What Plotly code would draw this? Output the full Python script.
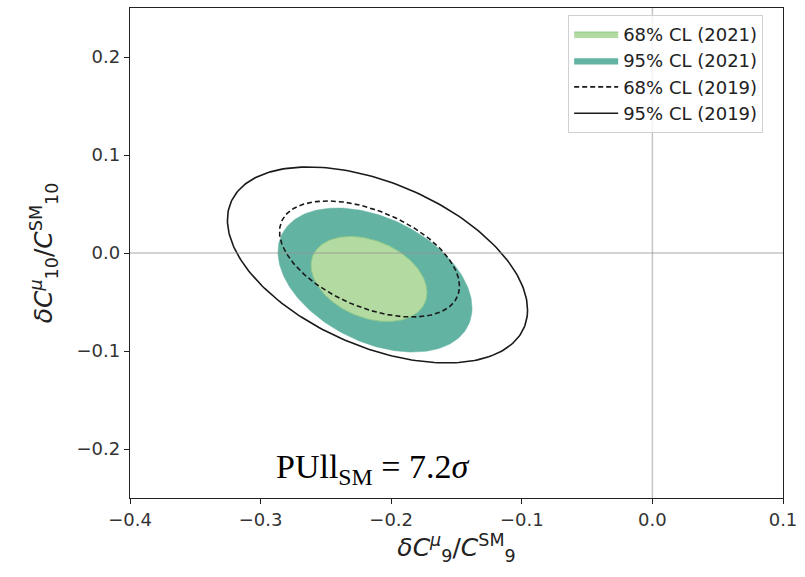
import numpy as np
import plotly.graph_objects as go

# Confidence-region ellipses: centre, half-extent along each axis, correlation
labels = ["95% CL (2021)", "68% CL (2021)", "68% CL (2019)", "95% CL (2019)"]
centre_c9 = [-0.2124, -0.2170, -0.2166, -0.2105]
centre_c10 = [-0.0276, -0.0265, -0.0061, -0.0122]
half_c9 = [0.0743, 0.0444, 0.0689, 0.1149]
half_c10 = [0.0735, 0.0434, 0.0592, 0.1000]
correlation = [-0.39, -0.32, -0.47, -0.46]

pull_text = "PUll<sub>SM</sub> = 7.2<i>σ</i>"

x_ticks = [-0.4, -0.3, -0.2, -0.1, 0.0, 0.1]
y_ticks = [-0.2, -0.1, 0.0, 0.1, 0.2]


def ellipse(i, n=240):
    t = np.linspace(0, 2 * np.pi, n)
    r = correlation[i]
    x = centre_c9[i] + half_c9[i] * np.cos(t)
    y = centre_c10[i] + half_c10[i] * (r * np.cos(t) + np.sqrt(1 - r * r) * np.sin(t))
    return x, y


fig = go.Figure()

styles = [
    dict(fill="toself", fillcolor="#63b3a3", line=dict(color="#63b3a3", width=0.5), rank=2),
    dict(fill="toself", fillcolor="#b3dba1", line=dict(color="#8fc98a", width=1), rank=1),
    dict(fill=None, fillcolor=None, line=dict(color="#1a1a1a", width=1.6, dash="5px,3px"), rank=3),
    dict(fill=None, fillcolor=None, line=dict(color="#1a1a1a", width=1.6), rank=4),
]

for i, lab in enumerate(labels):
    x, y = ellipse(i)
    s = styles[i]
    kw = dict(x=x, y=y, mode="lines", name=lab, line=s["line"], legendrank=s["rank"],
              hoverinfo="skip")
    if s["fill"]:
        kw.update(fill=s["fill"], fillcolor=s["fillcolor"])
    fig.add_trace(go.Scatter(**kw))

# reference lines at the Standard Model point
fig.add_shape(type="line", xref="x", yref="paper", x0=0, x1=0, y0=0, y1=1,
              line=dict(color="rgba(150,150,150,0.55)", width=1.5), layer="above")
fig.add_shape(type="line", xref="paper", yref="y", x0=0, x1=1, y0=0, y1=0,
              line=dict(color="rgba(150,150,150,0.55)", width=1.5), layer="above")

fig.add_annotation(x=-0.214, y=-0.22, xref="x", yref="y", text=pull_text,
                   showarrow=False, font=dict(family="Liberation Serif", size=34, color="black"))

axis_common = dict(
    showgrid=False, zeroline=False, showline=True, linecolor="#222", linewidth=1.3,
    mirror=True, ticks="outside", ticklen=5, tickwidth=1.2, tickcolor="#222",
    tickfont=dict(family="DejaVu Sans", size=18, color="#333"),
)

fig.update_xaxes(range=[-0.4, 0.1], tickvals=x_ticks,
                 ticktext=[f"{v:.1f}".replace("-", "−") for v in x_ticks],
                 title=dict(text="<i>δC</i><sup><i>μ</i></sup><sub>9</sub>/<i>C</i><sup>SM</sup><sub>9</sub>",
                            font=dict(family="DejaVu Sans", size=25, color="#222"), standoff=2),
                 **axis_common)
fig.update_yaxes(range=[-0.25, 0.25], tickvals=y_ticks,
                 ticktext=[f"{v:.1f}".replace("-", "−") for v in y_ticks],
                 title=dict(text="<i>δC</i><sup><i>μ</i></sup><sub>10</sub>/<i>C</i><sup>SM</sup><sub>10</sub>",
                            font=dict(family="DejaVu Sans", size=25, color="#222"), standoff=16),
                 **axis_common)

fig.update_layout(
    width=805, height=577,
    margin=dict(l=130, r=22, t=8, b=79),
    paper_bgcolor="white", plot_bgcolor="white",
    legend=dict(x=0.671, y=0.986, xanchor="left", yanchor="top",
                bgcolor="rgba(255,255,255,0.8)", bordercolor="#d0d0d0", borderwidth=1,
                font=dict(family="DejaVu Sans", size=18, color="#222"),
                itemwidth=44, tracegroupgap=2),
    showlegend=True,
)

fig.write_html("out.html")
